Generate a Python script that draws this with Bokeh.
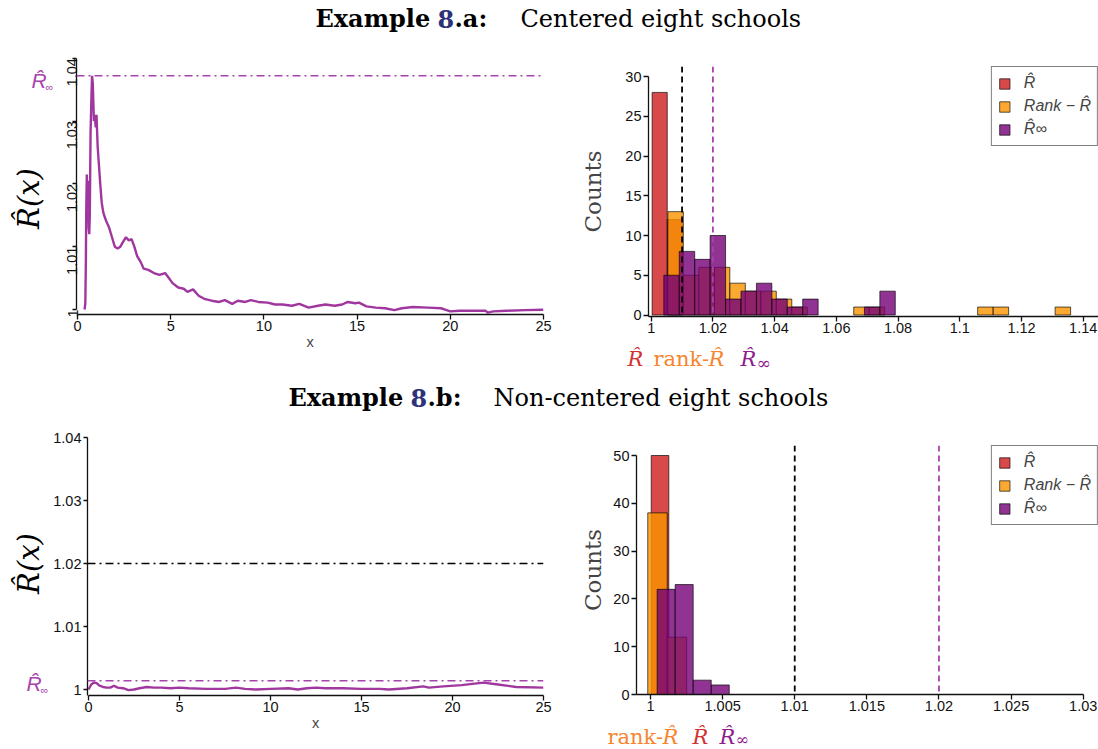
import math
from bokeh.plotting import figure
from bokeh.models import (Range1d, Span, Legend, LegendItem, FixedTicker,
                          CustomJSTickFormatter, ColumnDataSource)
from bokeh.layouts import column, row
from bokeh.core.properties import value
from bokeh.embed import file_html
from bokeh.resources import INLINE

# ---------------- data ----------------
# Example 8.a : R-hat(x) curve
xa = [0.38, 0.42, 0.45, 0.47, 0.50, 0.53, 0.56, 0.60, 0.63, 0.66, 0.70, 0.75, 0.78, 0.82,
      0.88, 0.92, 0.98, 1.02, 1.08, 1.15, 1.22, 1.30, 1.38, 1.45, 1.55, 1.70, 1.85, 2.00,
      2.15, 2.30, 2.45, 2.60, 2.75, 2.90, 3.05, 3.20, 3.40, 3.55, 3.80, 4.10, 4.40, 4.70,
      4.90, 5.10, 5.40, 5.70, 5.90, 6.20, 6.50, 6.80, 7.20, 7.60, 7.90, 8.30, 8.60, 9.00,
      9.30, 9.70, 10.2, 10.6, 11.0, 11.5, 11.9, 12.4, 12.9, 13.3, 13.8, 14.2, 14.5, 14.9,
      15.1, 15.5, 16.0, 16.5, 17.0, 17.4, 18.0, 18.8, 19.5, 19.8, 20.0, 20.5, 21.5, 21.9,
      22.0, 22.3, 23.0, 24.0, 25.0]
ya = [1.0000, 1.0010, 1.0080, 1.0160, 1.0215, 1.0140, 1.0205, 1.0130, 1.0120, 1.0150,
      1.0280, 1.0340, 1.0372, 1.0360, 1.0300, 1.0310, 1.0290, 1.0310, 1.0260, 1.0230,
      1.0200, 1.0170, 1.0155, 1.0148, 1.0140, 1.0130, 1.0115, 1.0100, 1.0097, 1.0100,
      1.0108, 1.0115, 1.0110, 1.0112, 1.0100, 1.0085, 1.0075, 1.0065, 1.0063, 1.0058,
      1.0055, 1.0058, 1.0050, 1.0042, 1.0035, 1.0033, 1.0028, 1.0032, 1.0022, 1.0017,
      1.0014, 1.0012, 1.0015, 1.0009, 1.0014, 1.0012, 1.0015, 1.0012, 1.0011, 1.0008,
      1.0008, 1.0006, 1.0009, 1.0003, 1.0006, 1.0008, 1.0006, 1.0008, 1.0012, 1.0010,
      1.0011, 1.0005, 1.0003, 1.0002, 0.9999, 1.0002, 1.0004, 1.0003, 1.0002, 0.9999,
      0.9997, 0.9998, 0.9998, 0.9998, 0.9995, 0.9997, 0.9998, 0.9999, 0.99995]
rinf_a = 1.0372

# Example 8.b : R-hat(x) curve
xb = [0.0, 0.15, 0.30, 0.45, 0.60, 0.80, 1.00, 1.20, 1.40, 1.60, 1.90, 2.20, 2.50, 2.80,
      3.20, 3.60, 4.00, 4.50, 5.00, 5.50, 6.50, 7.50, 8.10, 8.60, 9.20, 10.0, 11.0, 11.5,
      12.0, 12.5, 13.0, 14.0, 15.0, 16.0, 16.5, 17.5, 18.4, 18.7, 19.5, 20.5, 21.7, 22.5,
      23.5, 25.0]
yb = [1.0000, 1.0008, 1.0011, 1.0010, 1.0006, 1.0004, 1.0003, 1.0003, 1.0006, 1.0003,
      1.0002, 0.9999, 1.0000, 1.0002, 1.0004, 1.0003, 1.0003, 1.0002, 1.0003, 1.0002,
      1.0001, 1.0001, 1.0003, 1.0001, 1.0000, 1.0001, 1.0002, 1.0000, 1.0002, 1.0003,
      1.0002, 1.0002, 1.0001, 1.0001, 1.0000, 1.0002, 1.0005, 1.0003, 1.0005, 1.0007,
      1.0011, 1.0008, 1.0004, 1.0003]
rinf_b = 1.00138
ref_b = 1.02

x_ticks_curve = [0, 5, 10, 15, 20, 25]
y_ticks_curve = [1.0, 1.01, 1.02, 1.03, 1.04]

# Example 8.a histograms (bin start, bin width, counts)
red_a_start, red_a_width, red_a_counts = 1.0003, 0.0049, [28, 12]
orange_a_start, orange_a_width = 1.0054, 0.00502
orange_a_counts = [13, 5, 6, 6, 4, 3, 3, 2, 1, 0, 0, 0, 1, 1, 0, 0, 0, 0, 0, 0, 1, 1, 0, 0, 0, 1]
purple_a_start, purple_a_width = 1.0041, 0.0050
purple_a_counts = [5, 8, 7, 10, 2, 3, 4, 2, 1, 2, 0, 0, 0, 1, 3]
x_ticks_hist_a = [1.0, 1.02, 1.04, 1.06, 1.08, 1.1, 1.12, 1.14]
y_ticks_hist_a = [0, 5, 10, 15, 20, 25, 30]

# Example 8.b histograms
red_b_start, red_b_width, red_b_counts = 1.00005, 0.00122, [50]
orange_b_start, orange_b_width, orange_b_counts = 0.99981, 0.00135, [38, 12]
purple_b_start, purple_b_width, purple_b_counts = 1.00046, 0.00125, [22, 23, 3, 2]
x_ticks_hist_b = [1.0, 1.005, 1.01, 1.015, 1.02, 1.025, 1.03]
y_ticks_hist_b = [0, 10, 20, 30, 40, 50]

thr_black = 1.01
thr_purple = 1.02

legend_labels = ["R\u0302", "Rank \u2212 R\u0302", "R\u0302\u221e"]

# ---------------- style ----------------
LINE_PURPLE = "#A0379F"
REF_PURPLE = "#A743AC"
RED, ORANGE, PURPLE = "#CE1C1C", "#FA9400", "#740077"
CAP_RED, CAP_ORANGE, CAP_PURPLE = "#D33131", "#F5852E", "#8E1C8E"
NAVY = "#2D3279"
SANS, SERIF = "Liberation Sans", "DejaVu Serif"
TICK_SIZE = "14.5px"
BASELINE_FIX = 0.36   # renderer places alphabetic baselines ~0.36em low


def lin(pa, va, pb, vb):
    return lambda px: va + (px - pa) * (vb - va) / (pb - pa)


def fmt():
    return CustomJSTickFormatter(code="return tick.toFixed(3).replace(/\\.?0+$/, '');")


def no_align(p):
    if "frame_align" in p.properties():
        p.frame_align = False
    return p


def base_fig(origin, size, frame, fx, fy):
    ox, oy = origin
    w, h = size
    left, right, top, bottom = frame
    p = figure(width=w, height=h, title_location=None,
               x_range=Range1d(fx(left), fx(right)), y_range=Range1d(fy(bottom), fy(top)),
               toolbar_location=None, output_backend="svg",
               min_border_left=left - ox, min_border_right=ox + w - right,
               min_border_top=top - oy, min_border_bottom=oy + h - bottom)
    no_align(p)
    p.outline_line_color = None
    p.grid.visible = False
    p.background_fill_color = "white"
    p.border_fill_color = "white"
    for ax in p.axis:
        ax.axis_line_width = 1.3
        ax.axis_line_color = "#111111"
        ax.major_tick_line_width = 1.3
        ax.major_tick_line_color = "#111111"
        ax.major_tick_out = 5
        ax.major_tick_in = 0
        ax.minor_tick_line_color = None
        ax.major_label_text_font = SANS
        ax.major_label_text_font_size = TICK_SIZE
        ax.major_label_text_color = "#111111"
        ax.formatter = fmt()
        ax.major_label_standoff = 2
    p.xaxis.major_label_standoff = 1
    return p


def text_fig(origin, size):
    """Plain canvas whose data coordinates are page pixels (y negated)."""
    ox, oy = origin
    w, h = size
    t = figure(width=w, height=h, title_location=None, x_range=Range1d(ox, ox + w),
               y_range=Range1d(-(oy + h), -oy), toolbar_location=None, output_backend="svg",
               x_axis_type=None, y_axis_type=None, min_border=0)
    no_align(t)
    t.outline_line_color = None
    t.grid.visible = False
    t.background_fill_color = "white"
    t.border_fill_color = "white"
    return t


def put_text(t, pieces, font, size, style="normal", align="left", baseline="alphabetic", angle=0.0):
    shift = BASELINE_FIX * float(size.replace("px", "")) if baseline == "alphabetic" else 0.0
    t.text(x=[pc[0] for pc in pieces], y=[-(pc[1] - shift) for pc in pieces],
           text=[pc[2] for pc in pieces], text_color=[pc[3] for pc in pieces],
           text_font=value(font), text_font_style=style, text_font_size=size,
           text_align=align, text_baseline=baseline, angle=angle)


def hist(p, start, width, counts, color):
    left = [start + i * width for i, c in enumerate(counts) if c > 0]
    right = [l + width for l in left]
    top = [c for c in counts if c > 0]
    src = ColumnDataSource(dict(left=left, right=right, top=top, bottom=[0] * len(top)))
    return p.quad(left="left", right="right", top="top", bottom="bottom", source=src,
                  fill_color=color, fill_alpha=0.8, line_color="black", line_alpha=0.65,
                  line_width=1)


def curve_panel(origin, size, frame, fx, fy, xs, ys, rinf, ref, rot, ybounds, tick_out, standoff):
    p = base_fig(origin, size, frame, fx, fy)
    p.xaxis.ticker = FixedTicker(ticks=x_ticks_curve)
    p.yaxis.ticker = FixedTicker(ticks=y_ticks_curve)
    p.xaxis.bounds = (0, 25)
    p.yaxis.bounds = ybounds
    p.yaxis.major_tick_out = tick_out
    p.yaxis.major_label_standoff = standoff
    if rot:
        p.yaxis.major_label_orientation = math.pi / 2
    p.xaxis.axis_label = "x"
    p.xaxis.axis_label_text_font = SANS
    p.xaxis.axis_label_text_font_style = "normal"
    p.xaxis.axis_label_text_font_size = "14.5px"
    p.xaxis.axis_label_standoff = 0
    p.line(xs, ys, line_width=2.4, line_color=LINE_PURPLE)
    p.add_layout(Span(location=rinf, dimension="width", line_color=REF_PURPLE,
                      line_width=1.6, line_dash="8 4 2 4"))
    if ref is not None:
        p.add_layout(Span(location=ref, dimension="width", line_color="black",
                          line_width=1.6, line_dash="8 4 2 4"))
    return p


def left_strip(origin, size, ylab_center, rhat_pos):
    s = text_fig(origin, size)
    put_text(s, [(ylab_center[0], ylab_center[1], "R\u0302(x)", "black")], SERIF, "29px",
             style="italic", align="center", baseline="middle", angle=math.pi / 2)
    put_text(s, [(rhat_pos[0], rhat_pos[1], "R\u0302", REF_PURPLE)], SANS, "21px", style="italic")
    put_text(s, [(rhat_pos[0] + 14, rhat_pos[1] + 2, "\u221e", REF_PURPLE)], SANS, "11px")
    return s


def hist_panel(origin, size, frame, fx, fy, data, xticks, yticks, xbounds, ybounds,
               counts_standoff):
    p = base_fig(origin, size, frame, fx, fy)
    p.xaxis.ticker = FixedTicker(ticks=xticks)
    p.yaxis.ticker = FixedTicker(ticks=yticks)
    p.xaxis.bounds = xbounds
    p.yaxis.bounds = ybounds
    p.yaxis.axis_label = "Counts"
    p.yaxis.axis_label_text_font = SERIF
    p.yaxis.axis_label_text_font_style = "normal"
    p.yaxis.axis_label_text_font_size = "23px"
    p.yaxis.axis_label_standoff = counts_standoff
    rs = [hist(p, s, w, c, col) for (s, w, c, col) in data]
    p.add_layout(Span(location=thr_black, dimension="height", line_color="black",
                      line_width=1.8, line_dash="6 4"))
    p.add_layout(Span(location=thr_purple, dimension="height", line_color=REF_PURPLE,
                      line_width=1.8, line_dash="6 4"))
    legend = Legend(items=[LegendItem(label=legend_labels[i], renderers=[rs[i]]) for i in range(3)],
                    location="top_right", margin=0, padding=6, spacing=3,
                    glyph_width=13, glyph_height=13, label_standoff=13, label_height=20,
                    border_line_color="black", border_line_width=1.2,
                    background_fill_color="white", background_fill_alpha=1.0,
                    label_text_font=SANS, label_text_font_style="italic",
                    label_text_font_size="16px")
    p.add_layout(legend)
    return p


def caption_fig(origin, size, pieces):
    c = text_fig(origin, size)
    for (px, py, txt, col, style, sz) in pieces:
        put_text(c, [(px, py, txt, col)], SERIF, sz, style=style)
    return c


# ---- titles ----
t1 = text_fig((0, 0), (1098, 36))
put_text(t1, [(315, 27, "Example", "black"), (437, 27, "8", NAVY), (454, 27, ".a:", "black")],
         SERIF, "24px", style="bold")
put_text(t1, [(520, 27, "Centered eight schools", "black")], SERIF, "24px")

t2 = text_fig((0, 378), (1098, 40))
put_text(t2, [(288, 406, "Example", "black"), (410, 406, "8", NAVY), (427, 406, ".b:", "black")],
         SERIF, "24px", style="bold")
put_text(t2, [(493, 406, "Non-centered eight schools", "black")], SERIF, "24px")

# ---- top row ----
s1 = left_strip((0, 36), (55, 342), (28, 198), (31, 88))
fx1 = lin(77, 0, 543, 25)
fy1 = lin(309, 1.0, 57.7, 1.04)
p1 = curve_panel((55, 36), (505, 342), (76, 543, 54, 314), fx1, fy1, xa, ya, rinf_a, None, True,
                 (1.0, 1.04), 4, 0)

fx2 = lin(650.7, 1.0, 1082.7, 1.14)
fy2 = lin(314.5, 0, 76, 30)
p2 = hist_panel((560, 36), (538, 306), (648, 1098, 66, 316), fx2, fy2,
                [(red_a_start, red_a_width, red_a_counts, RED),
                 (orange_a_start, orange_a_width, orange_a_counts, ORANGE),
                 (purple_a_start, purple_a_width, purple_a_counts, PURPLE)],
                x_ticks_hist_a, y_ticks_hist_a, "auto", (fy2(316), 30), 16)
c2 = caption_fig((560, 342), (538, 36),
                 [(627, 366, "R\u0302", CAP_RED, "italic", "21px"),
                  (653, 366, "rank-", CAP_ORANGE, "normal", "21px"),
                  (708, 366, "R\u0302", CAP_ORANGE, "italic", "21px"),
                  (740, 366, "R\u0302", CAP_PURPLE, "italic", "21px"),
                  (756, 369, "\u221e", CAP_PURPLE, "normal", "17px")])

# ---- bottom row ----
s3 = left_strip((0, 418), (50, 331), (28, 563), (26, 691))
fx3 = lin(87, 0, 543, 25)
fy3 = lin(689, 1.0, 437, 1.04)
p3 = curve_panel((50, 418), (510, 331), (86, 543, 434, 695), fx3, fy3, xb, yb, rinf_b, ref_b, False,
                 (fy3(695), 1.04), 4, 2)

fx4 = lin(650, 1.0, 1082.7, 1.03)
fy4 = lin(694, 0, 455, 50)
p4 = hist_panel((560, 418), (538, 302), (636, 1098, 445, 694), fx4, fy4,
                [(red_b_start, red_b_width, red_b_counts, RED),
                 (orange_b_start, orange_b_width, orange_b_counts, ORANGE),
                 (purple_b_start, purple_b_width, purple_b_counts, PURPLE)],
                x_ticks_hist_b, y_ticks_hist_b, (fx4(636), 1.03), (fy4(694), 50), 4)
c4 = caption_fig((560, 720), (538, 29),
                 [(607, 744, "rank-", CAP_ORANGE, "normal", "21px"),
                  (662, 744, "R\u0302", CAP_ORANGE, "italic", "21px"),
                  (692, 744, "R\u0302", CAP_RED, "italic", "21px"),
                  (719, 744, "R\u0302", CAP_PURPLE, "italic", "21px"),
                  (735, 745, "\u221e", CAP_PURPLE, "normal", "16px")])

layout = column(t1,
                row(s1, p1, column(p2, c2, spacing=0), spacing=0),
                t2,
                row(s3, p3, column(p4, c4, spacing=0), spacing=0),
                spacing=0)
open("out.html", "w").write(file_html(layout, INLINE))
